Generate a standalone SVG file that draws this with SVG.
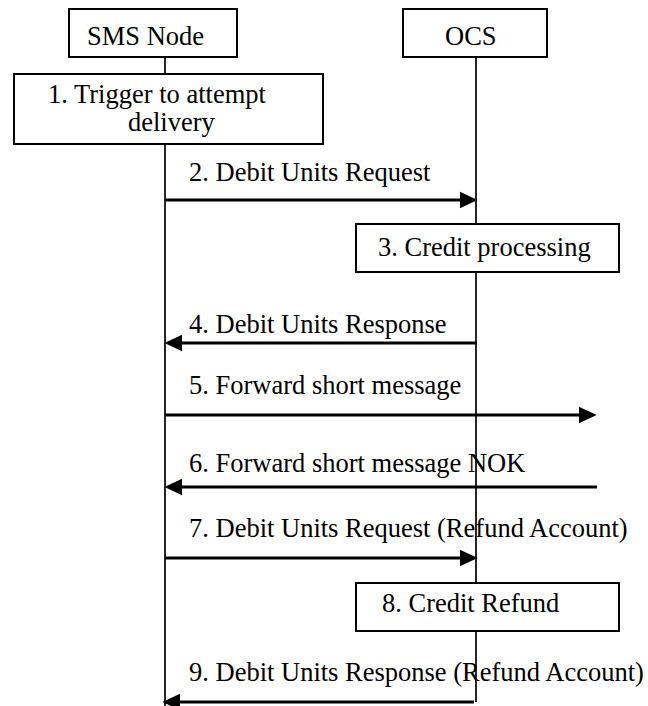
<svg xmlns="http://www.w3.org/2000/svg" width="648" height="706" viewBox="0 0 648 706">
<style>
  .box { fill: #fff; stroke: #000; stroke-width: 2; }
  .life { stroke: #000; stroke-width: 1.7; fill: none; }
  .msg { stroke: #000; stroke-width: 3.2; fill: none; marker-end: url(#ah); }
  text { font-family: "Liberation Serif", "Times New Roman", serif; font-size: 26.5px; fill: #000; }
</style>
<defs>
  <marker id="ah" markerUnits="userSpaceOnUse" markerWidth="18" markerHeight="18" viewBox="0 0 17 16" refX="6" refY="8" orient="auto">
    <path d="M0,0 L17,8 L0,16 z" fill="#000"/>
  </marker>
</defs>
<g id="lifelines">
  <line class="life" x1="165" y1="57" x2="165" y2="706"/>
  <line class="life" x1="476" y1="57" x2="476" y2="702"/>
</g>
<g id="node-sms">
  <rect class="box" x="69" y="9" width="168" height="48"/>
  <text x="87" y="45">SMS Node</text>
</g>
<g id="node-ocs">
  <rect class="box" x="403" y="9" width="144" height="48"/>
  <text x="445" y="45">OCS</text>
</g>
<g id="step1">
  <rect class="box" x="14" y="74" width="309" height="70"/>
  <text x="48" y="103">1. Trigger to attempt</text>
  <text x="128" y="131">delivery</text>
</g>
<g id="step3">
  <rect class="box" x="356" y="224" width="263" height="48"/>
  <text x="378" y="256">3. Credit processing</text>
</g>
<g id="step8">
  <rect class="box" x="356" y="583" width="263" height="48"/>
  <text x="382" y="612">8. Credit Refund</text>
</g>
<g id="connectors">
  <line class="msg" x1="165" y1="200" x2="466" y2="200"/>
  <text x="189" y="181">2. Debit Units Request</text>
  <line class="msg" x1="477" y1="343" x2="176" y2="343"/>
  <text x="189" y="333">4. Debit Units Response</text>
  <line class="msg" x1="165" y1="415" x2="585" y2="415"/>
  <text x="189" y="394">5. Forward short message</text>
  <line class="msg" x1="597" y1="487" x2="176" y2="487"/>
  <text x="189" y="472">6. Forward short message NOK</text>
  <line class="msg" x1="165" y1="558" x2="466" y2="558"/>
  <text x="189" y="537">7. Debit Units Request (Refund Account)</text>
  <line class="msg" x1="474" y1="702" x2="174" y2="702"/>
  <text x="189" y="681">9. Debit Units Response (Refund Account)</text>
</g>
</svg>
